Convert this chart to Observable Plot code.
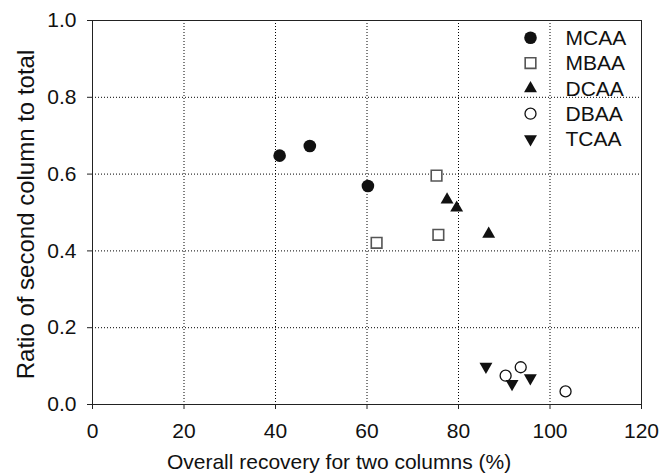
<!DOCTYPE html>
<html>
<head>
<meta charset="utf-8">
<script src="https://cdn.jsdelivr.net/npm/d3@7"></script>
<script src="https://cdn.jsdelivr.net/npm/@observablehq/plot@0.6"></script>
<style>
  html, body { margin: 0; padding: 0; background: #fff; }
  #chart svg { display: block; background: #fff; }
</style>
</head>
<body>
<div id="chart"></div>
<script>
// ---- data ----
const xTicks = [0, 20, 40, 60, 80, 100, 120];
const yTicks = [0, 0.2, 0.4, 0.6, 0.8, 1.0];
const xGrid = [20, 40, 60, 80, 100];
const yGrid = [0.2, 0.4, 0.6, 0.8];

const seriesNames = ["MCAA", "MBAA", "DCAA", "DBAA", "TCAA"];
const mcaaX = [40.9, 47.5, 60.2];
const mcaaY = [0.648, 0.673, 0.569];
const mbaaX = [75.2, 62.1, 75.6];
const mbaaY = [0.596, 0.421, 0.442];
const dcaaX = [77.5, 79.6, 86.6];
const dcaaY = [0.533, 0.512, 0.444];
const dbaaX = [90.3, 93.6, 103.4];
const dbaaY = [0.075, 0.097, 0.034];
const tcaaX = [86.0, 91.7, 95.7];
const tcaaY = [0.099, 0.054, 0.069];

const xLabel = "Overall recovery for two columns (%)";
const yLabel = "Ratio of second column to total";

// ---- build ----
const pts = (xs, ys) => xs.map((x, i) => ({x, y: ys[i]}));

const triangleDown = {
  draw(context, size) {
    const y = -Math.sqrt(size / (Math.sqrt(3) * 3));
    context.moveTo(0, -y * 2);
    context.lineTo(-Math.sqrt(3) * y, y);
    context.lineTo(Math.sqrt(3) * y, y);
    context.closePath();
  }
};

const styles = {
  MCAA: {symbol: "circle", r: 6.3, fill: "#111", stroke: "none"},
  MBAA: {symbol: "square", r: 6.0, fill: "#fff", stroke: "#555", strokeWidth: 1.6},
  DCAA: {symbol: "triangle", r: 4.8, fill: "#111", stroke: "none"},
  DBAA: {symbol: "circle", r: 5.5, fill: "#fff", stroke: "#111", strokeWidth: 1.3},
  TCAA: {symbol: triangleDown, r: 4.8, fill: "#111", stroke: "none"}
};

const seriesData = {
  MCAA: pts(mcaaX, mcaaY),
  MBAA: pts(mbaaX, mbaaY),
  DCAA: pts(dcaaX, dcaaY),
  DBAA: pts(dbaaX, dbaaY),
  TCAA: pts(tcaaX, tcaaY)
};

const marks = [
  Plot.ruleX(xGrid, {stroke: "#000", strokeDasharray: "1,2", strokeWidth: 1}),
  Plot.ruleY(yGrid, {stroke: "#000", strokeDasharray: "1,2", strokeWidth: 1}),
  Plot.frame({stroke: "#222", strokeWidth: 1}),
  Plot.axisX({ticks: xTicks, tickSize: 5, tickPadding: 14, label: null, fontSize: 21, stroke: "#222"}),
  Plot.axisY({ticks: yTicks, tickSize: 5, tickPadding: 11, label: null, fontSize: 21, tickFormat: d3.format(".1f"), stroke: "#222"}),
  Plot.text([xLabel], {frameAnchor: "bottom", lineAnchor: "middle", dy: 58, dx: -28, fontSize: 21, fill: "#111"}),
  Plot.text([yLabel], {frameAnchor: "left", rotate: -90, textAnchor: "middle", lineAnchor: "middle", dx: -66, dy: 2, fontSize: 24, fill: "#111"})
];

seriesNames.forEach((name, i) => {
  const s = styles[name];
  marks.push(Plot.dot(seriesData[name], {x: "x", y: "y", ...s}));
  // legend entries
  marks.push(Plot.dot([name], {frameAnchor: "top-right", dx: -111, dy: 17.3 + i * 25.3, ...s}));
  marks.push(Plot.text([name], {frameAnchor: "top-right", lineAnchor: "middle", dx: -76, dy: 17.8 + i * 25.3, text: d => d, textAnchor: "start", fontSize: 21, fill: "#111"}));
});

const chart = Plot.plot({
  width: 660,
  height: 474,
  marginLeft: 92,
  marginRight: 19,
  marginTop: 20,
  marginBottom: 70,
  x: {domain: [0, 120]},
  y: {domain: [0, 1]},
  style: {fontFamily: "'Liberation Sans', Arial, sans-serif", fontSize: "21px", color: "#111", background: "#fff"},
  marks
});
document.getElementById("chart").append(chart);
</script>
</body>
</html>
